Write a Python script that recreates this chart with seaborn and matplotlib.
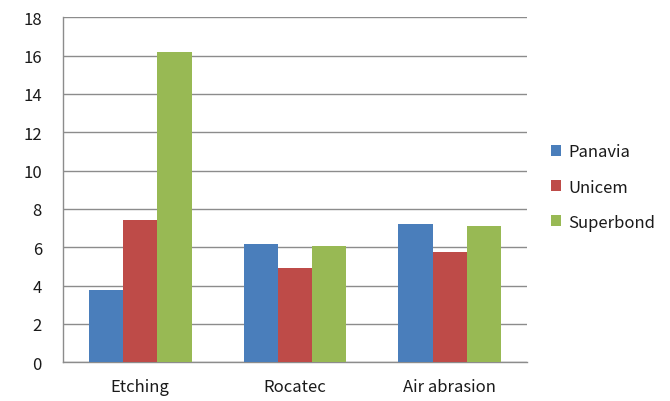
import matplotlib

matplotlib.use("Agg")
import matplotlib.pyplot as plt
import pandas as pd
import seaborn as sns

categories = ["Etching", "Rocatec", "Air abrasion"]
cements = ["Panavia", "Unicem", "Superbond"]
panavia = [3.77, 6.15, 7.21]
unicem = [7.42, 4.94, 5.74]
superbond = [16.17, 6.08, 7.09]
colors = ["#4A7EBB", "#BE4B48", "#98B954"]
y_ticks = list(range(0, 19, 2))

df = pd.DataFrame({
    "treatment": categories * 3,
    "cement": [c for c in cements for _ in categories],
    "value": panavia + unicem + superbond,
})

sns.set_style("white")
plt.rcParams["font.family"] = ["Noto Sans CJK KR", "DejaVu Sans"]

fig = plt.figure(figsize=(6.7, 4.02), dpi=100)
ax = fig.add_axes([0.0936, 0.0963, 0.6934, 0.8582])

sns.barplot(
    data=df, x="treatment", y="value", hue="cement", order=categories,
    hue_order=cements, palette=colors, width=0.664, gap=0, saturation=1,
    edgecolor="none", linewidth=0, ax=ax, zorder=3,
)

grid_col = "#8C8C8C"
text_col = "#1A1A1A"
ax.set_ylim(0, 18)
ax.set_xlim(-0.5, 2.5)
ax.set_yticks(y_ticks)
ax.set_yticklabels([str(t) for t in y_ticks], fontsize=12, color=text_col)
ax.yaxis.grid(True, color=grid_col, linewidth=1)
ax.set_axisbelow(True)
ax.tick_params(axis="y", length=7, color=grid_col, pad=8, width=1)
ax.set_xticks(range(len(categories)))
ax.set_xticklabels(categories, fontsize=12, color=text_col)
ax.tick_params(axis="x", which="major", length=0, pad=11)
ax.set_xticks([-0.5, 0.5, 1.5, 2.5], minor=True)
ax.tick_params(axis="x", which="minor", length=6, color=grid_col, width=1)
ax.set_xlabel("")
ax.set_ylabel("")
for side in ("top", "right"):
    ax.spines[side].set_visible(False)
for side in ("left", "bottom"):
    ax.spines[side].set_color(grid_col)
    ax.spines[side].set_linewidth(1)

handles, labels = ax.get_legend_handles_labels()
leg = ax.legend(
    handles, labels, loc="center left", bbox_to_anchor=(1.018, 0.508),
    frameon=False, fontsize=12, handlelength=0.65, handleheight=0.65,
    handletextpad=0.4, labelspacing=1.09,
)
for t in leg.get_texts():
    t.set_color(text_col)

fig.savefig("out.png", dpi=100)
plt.close(fig)
